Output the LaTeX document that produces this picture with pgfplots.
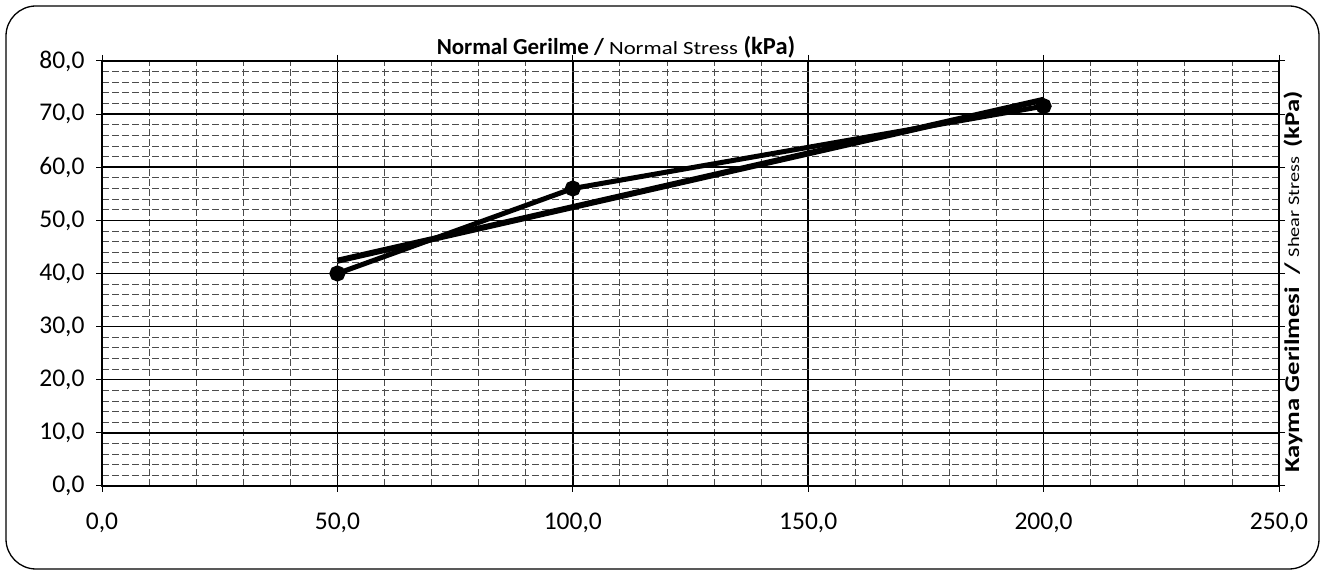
\documentclass[border=0pt]{standalone}
\usepackage{fontspec}
\setmainfont{Carlito}
\usepackage{graphicx}
\usepackage{pgfplots}
\pgfplotsset{compat=1.18}
\begin{document}
\begin{tikzpicture}
\useasboundingbox (0,0) rectangle (1331pt,572pt);
\fill[white] (0,0) rectangle (1331pt,572pt);
\draw[black, line width=1.3pt, rounded corners=30pt] (6pt,3pt) rectangle (1319pt,566pt);
\begin{axis}[
  at={(102pt,86pt)}, anchor=south west,
  scale only axis, width=1177pt, height=425pt,
  xmin=0, xmax=250, ymin=0, ymax=80,
  xtick={0,50,...,250}, ytick={0,10,...,80},
  minor x tick num=4, minor y tick num=4,
  grid=both,
  major grid style={black, line width=1.5pt},
  minor grid style={black!70, line width=0.8pt, dash pattern=on 7pt off 3pt},
  axis line style={black, line width=1.5pt},
  tick align=outside, major tick length=6pt, minor tick length=0pt,
  tick style={black, line width=1pt},
  xticklabel style={yshift=-17pt},
  yticklabel style={xshift=-8pt},
  /pgf/number format/.cd, fixed, fixed zerofill, precision=1, use comma, assume math mode=true,
  /pgfplots/.cd,
  tick label style={font=\fontsize{25.5}{29}\selectfont},
  clip=false,
]
\addplot[black, line width=5pt, mark=*, mark size=5.5pt] coordinates {(50,40) (100,56) (200,71.5)};
\addplot[black, line width=6pt] coordinates {(50,42.4) (200,72.7)};
\end{axis}
\node[anchor=base, inner sep=0pt] at (616pt,517pt) {\scalebox{1.066}{{\bfseries\fontsize{21.5}{26}\selectfont Normal Gerilme / }\scalebox{1.22}[1]{\fontsize{17.5}{21}\selectfont Normal Stress}{\bfseries\fontsize{23}{26}\selectfont\ (kPa)}}};
\node[rotate=90, anchor=base, inner sep=0pt] at (1299pt,290pt) {\scalebox{1.27}[1]{{\bfseries\fontsize{21}{24}\selectfont Kayma Gerilmesi \ / }{\fontsize{16}{18}\selectfont Shear Stress \ }{\bfseries\fontsize{21}{24}\selectfont(kPa)}}};
\end{tikzpicture}
\end{document}
